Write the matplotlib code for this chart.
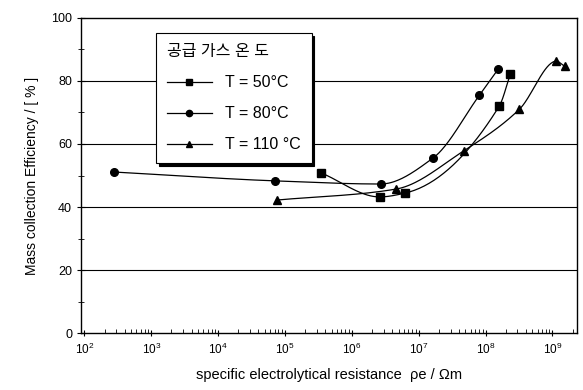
import numpy as np
import matplotlib
matplotlib.use("Agg")
import matplotlib.pyplot as plt
from matplotlib.ticker import LogLocator, FixedLocator, NullFormatter

plt.rcParams['font.family'] = ['Liberation Sans', 'Noto Sans CJK KR', 'DejaVu Sans']

# data (resistance in Ohm*m, efficiency in %)
x_50 = [3.5e5, 2.6e6, 6.2e6, 1.6e8, 2.35e8]
y_50 = [50.8, 43.2, 44.4, 72.0, 82.2]

x_80 = [2.8e2, 7.0e4, 2.7e6, 1.65e7, 8.1e7, 1.55e8]
y_80 = [51.1, 48.3, 47.3, 55.6, 75.5, 83.8]

x_110 = [7.5e4, 4.6e6, 4.7e7, 3.2e8, 1.15e9, 1.55e9]
y_110 = [42.2, 45.7, 57.8, 71.0, 86.3, 84.8]

series = [
    ("T = 50°C", x_50, y_50, "s"),
    ("T = 80°C", x_80, y_80, "o"),
    ("T = 110 °C", x_110, y_110, "^"),
]
legend_title = "공급 가스 온 도"


def smooth(xs, ys, n=40):
    # monotone cubic (pchip) through the points, in log-x space
    x = np.log10(np.asarray(xs, float))
    y = np.asarray(ys, float)
    h = np.diff(x)
    d = np.diff(y) / h
    m = np.zeros_like(y)
    for i in range(1, len(y) - 1):
        if d[i - 1] * d[i] > 0:
            w1 = 2 * h[i] + h[i - 1]
            w2 = h[i] + 2 * h[i - 1]
            m[i] = (w1 + w2) / (w1 / d[i - 1] + w2 / d[i])
    m[0] = d[0]
    m[-1] = d[-1]
    if d[-1] * d[-2] < 0:
        m[-1] = 0
    px, py = [], []
    for i in range(len(h)):
        t = np.linspace(0, 1, n)
        h00 = 2 * t ** 3 - 3 * t ** 2 + 1
        h10 = t ** 3 - 2 * t ** 2 + t
        h01 = -2 * t ** 3 + 3 * t ** 2
        h11 = t ** 3 - t ** 2
        px.append(x[i] + t * h[i])
        py.append(h00 * y[i] + h10 * h[i] * m[i] + h01 * y[i + 1] + h11 * h[i] * m[i + 1])
    return 10 ** np.concatenate(px), np.concatenate(py)


fig = plt.figure(figsize=(5.83, 3.90), dpi=100)
ax = fig.add_axes([0.139, 0.146, 0.851, 0.808])

handles = []
for label, xs, ys, m in series:
    sx, sy = smooth(xs, ys)
    ax.plot(sx, sy, color="black", lw=0.9)
    ax.plot(xs, ys, linestyle="none", marker=m, color="black", ms=5.5)
    h, = ax.plot([], [], color="black", lw=0.9, marker=m, ms=4.5, label=label)
    handles.append(h)

ax.set_xscale("log")
ax.set_xlim(10 ** 1.95, 10 ** 9.37)
ax.set_ylim(0, 100)

ax.xaxis.set_major_locator(FixedLocator([10.0 ** k for k in range(2, 10)]))
ax.xaxis.set_minor_locator(LogLocator(base=10, subs=np.arange(2, 10)))
ax.xaxis.set_minor_formatter(NullFormatter())
ax.set_yticks([0, 20, 40, 60, 80, 100])
ax.set_yticks(range(10, 100, 20), minor=True)

ax.tick_params(axis="x", which="major", direction="inout", length=5, labelsize=8.5, pad=4)
ax.tick_params(axis="x", which="minor", direction="in", length=3)
ax.tick_params(axis="y", which="major", direction="inout", length=6, labelsize=9)
ax.tick_params(axis="y", which="minor", direction="inout", length=4)

for v in [20, 40, 60, 80]:
    ax.axhline(v, color="black", lw=0.8, zorder=0)

for s in ax.spines.values():
    s.set_linewidth(1.0)

ax.set_xlabel("specific electrolytical resistance  ρe / Ωm", fontsize=10.5, labelpad=8)
ax.set_ylabel("Mass collection Efficiency / [ % ]", fontsize=10, labelpad=9)

leg = ax.legend(handles=handles, title=legend_title, loc="upper left",
                bbox_to_anchor=(0.151, 0.952), borderaxespad=0,
                fontsize=11.5, title_fontsize=11.5,
                frameon=True, fancybox=False, framealpha=1, edgecolor="black",
                handlelength=2.8, labelspacing=1.0, borderpad=0.7,
                shadow={"color": "black", "alpha": 1})
leg._legend_box.align = "left"
leg.get_frame().set_linewidth(0.8)

fig.savefig("out.png", dpi=100)
